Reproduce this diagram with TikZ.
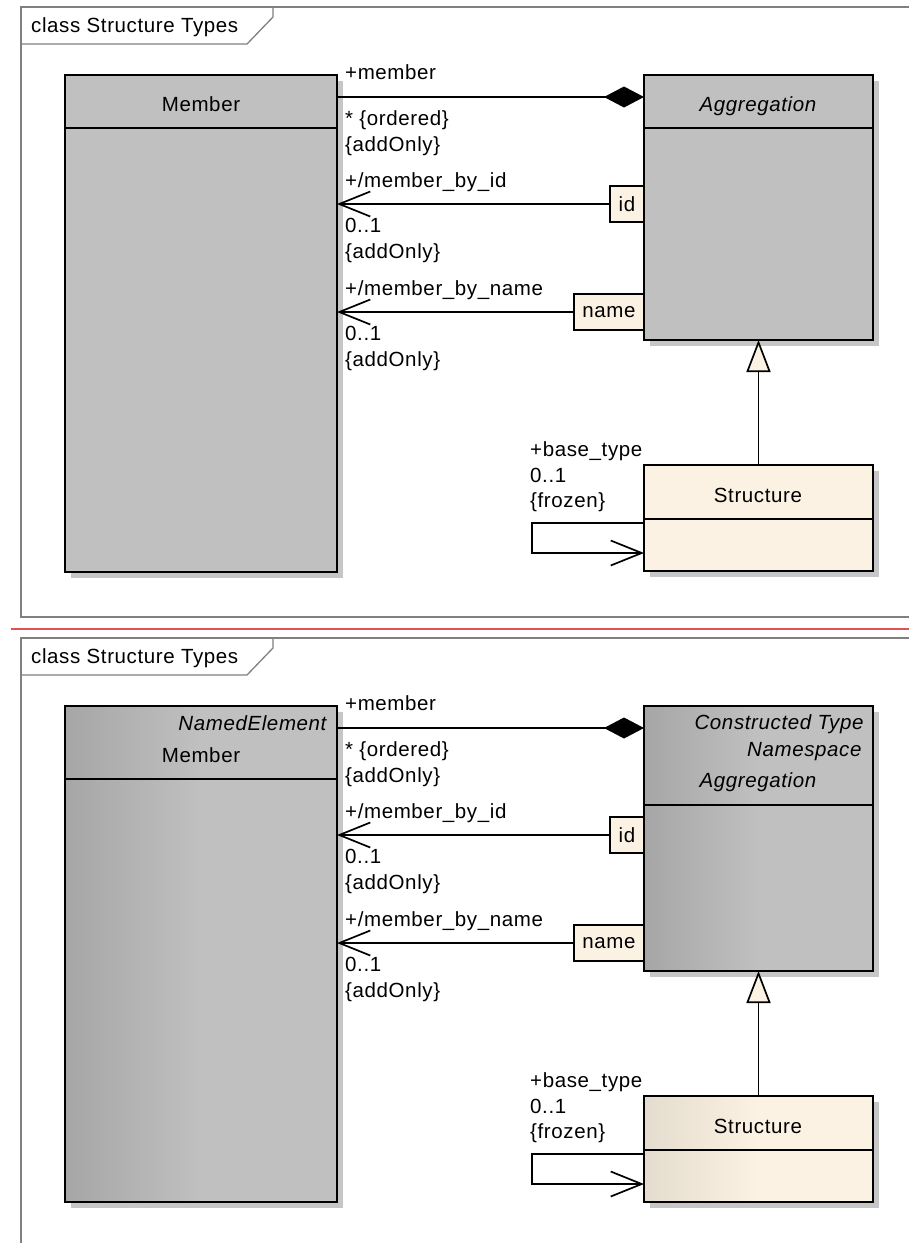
\documentclass[tikz,border=0pt]{standalone}
\usepackage{fontspec}
\setmainfont[LetterSpace=3]{Liberation Sans}
\usetikzlibrary{arrows.meta,calc,positioning,shadows}
\definecolor{umlgray}{RGB}{192,192,192}
\definecolor{umldark}{RGB}{166,166,166}
\definecolor{umlcream}{RGB}{252,242,228}
\definecolor{umlcreamdark}{RGB}{228,220,206}
\definecolor{umlshadow}{RGB}{198,198,198}
\definecolor{framegray}{RGB}{128,128,128}
\definecolor{sepred}{RGB}{222,82,82}

\tikzset{
  classbox/.style={draw, line width=2pt, fill=umlgray, inner sep=0pt, outer sep=0pt,
    general shadow={fill=umlshadow, shadow xshift=6pt, shadow yshift=-6pt}},
  shadedgray/.style={left color=umldark, right color=umlgray, middle color=umlgray},
  shadedcream/.style={left color=umlcreamdark, right color=umlcream, middle color=umlcream},
  qualbox/.style={draw, line width=1.6pt, fill=umlcream, inner sep=0pt, outer sep=0pt, minimum height=36pt},
  lbl/.style={anchor=base west, inner sep=0pt},
  assoc/.style={line width=1.7pt, -{Straight Barb[length=31pt, width=25pt]}},
  comp/.style={line width=1.7pt, -{Diamond[length=40pt, width=21pt]}},
  gener/.style={line width=1.7pt, -{Triangle[length=32pt, width=24pt, fill=umlcream]}},
  frame/.style={draw=framegray, line width=1.3pt},
  sepline/.style={draw=sepred, line width=2pt}
}

\begin{document}
\begin{tikzpicture}[x=1pt,y=1pt,yscale=-1,xscale=1,font=\fontsize{20.5}{24}\selectfont]
\useasboundingbox (0,0) rectangle (909,1243);

% Separator between the two versions
\draw[sepline] (11,629) -- (909,629);

%%%%%%%%%%%%%%%% upper diagram
% Frame
\draw[frame] (909,7) -- (21,7) -- (21,617) -- (909,617);
\draw[frame] (21,44) -- (247,44) -- (273,17) -- (273,7);
\draw (31,32) node [lbl] (title) {class Structure Types};

% Classes
\node[classbox, anchor=north west, minimum width=272pt, minimum height=53pt] (member) at (65,75) {};
\node[classbox, below=0pt of member, minimum width=272pt, minimum height=444pt] (memberb) {};
\draw (201,111) node [anchor=base] (membername) {Member};

\node[classbox, anchor=north west, minimum width=229pt, minimum height=53pt] (aggr) at (644,75) {};
\node[classbox, below=0pt of aggr, minimum width=229pt, minimum height=212pt] (aggrb) {};
\draw (758,111) node [anchor=base] (aggrname) {\itshape Aggregation};

\node[classbox, fill=umlcream, anchor=north west, minimum width=229pt, minimum height=54pt] (struct) at (644,465) {};
\node[classbox, fill=umlcream, below=0pt of struct, minimum width=229pt, minimum height=52pt] (structb) {};
\draw (758,502) node [anchor=base] (structname) {Structure};

% Qualifiers
\node[qualbox, anchor=east, minimum width=34pt] (id) at (644,204) {id};
\node[qualbox, anchor=east, minimum width=70pt] (name) at (644,312) {name};

% Connectors
\draw[comp] ($(member.north east)+(0,22)$) -- ($(aggr.north west)+(0,22)$);
\draw[assoc] (id.west) -- (id.west -| memberb.east);
\draw[assoc] (name.west) -- (name.west -| memberb.east);
\draw[gener] (struct.north) -- (aggrb.south);
\draw[assoc] ($(structb.north west)+(0,4)$) -- ++(-112,0) |- ($(structb.north west)+(0,34)$);

% Role labels
\draw (345,79) node [lbl] (rmember) {+member};
\draw (345,125) node [lbl] (mmember) {* \{ordered\}};
\draw (345,151) node [lbl] (cmember) {\{addOnly\}};
\draw (345,187) node [lbl] (rbyid) {+/member\_by\_id};
\draw (345,232) node [lbl] (mbyid) {0..1};
\draw (345,258) node [lbl] (cbyid) {\{addOnly\}};
\draw (345,295) node [lbl] (rbyname) {+/member\_by\_name};
\draw (345,340) node [lbl] (mbyname) {0..1};
\draw (345,366) node [lbl] (cbyname) {\{addOnly\}};
\draw (530,456) node [lbl] (rbase) {+base\_type};
\draw (530,482) node [lbl] (mbase) {0..1};
\draw (530,507) node [lbl] (cbase) {\{frozen\}};

%%%%%%%%%%%%%%%% lower diagram
\begin{scope}[shift={(0,631)}]
% Frame
\draw[frame] (909,7) -- (21,7) -- (21,612);
\draw[frame] (21,44) -- (247,44) -- (273,17) -- (273,7);
\draw (31,32) node [lbl] (title2) {class Structure Types};

% Classes
\node[classbox, shadedgray, anchor=north west, minimum width=272pt, minimum height=73pt] (member2) at (65,75) {};
\node[classbox, shadedgray, below=0pt of member2, minimum width=272pt, minimum height=423pt] (member2b) {};
\draw (330,99) node [anchor=base east] (member2parent) {\itshape NamedElement};
\draw (201,131) node [anchor=base] (member2name) {Member};

\node[classbox, shadedgray, anchor=north west, minimum width=229pt, minimum height=99pt] (aggr2) at (644,75) {};
\node[classbox, shadedgray, below=0pt of aggr2, minimum width=229pt, minimum height=166pt] (aggr2b) {};
\draw (867,98) node [anchor=base east] (aggr2parenta) {\itshape Constructed Type};
\draw (865,125) node [anchor=base east] (aggr2parentb) {\itshape Namespace};
\draw (758,156) node [anchor=base] (aggr2name) {\itshape Aggregation};

\node[classbox, shadedcream, anchor=north west, minimum width=229pt, minimum height=54pt] (struct2) at (644,465) {};
\node[classbox, shadedcream, below=0pt of struct2, minimum width=229pt, minimum height=52pt] (struct2b) {};
\draw (758,502) node [anchor=base] (struct2name) {Structure};

% Qualifiers
\node[qualbox, anchor=east, minimum width=34pt] (id2) at (644,204) {id};
\node[qualbox, anchor=east, minimum width=70pt] (name2) at (644,312) {name};

% Connectors
\draw[comp] ($(member2.north east)+(0,22)$) -- ($(aggr2.north west)+(0,22)$);
\draw[assoc] (id2.west) -- (id2.west -| member2b.east);
\draw[assoc] (name2.west) -- (name2.west -| member2b.east);
\draw[gener] (struct2.north) -- (aggr2b.south);
\draw[assoc] ($(struct2b.north west)+(0,4)$) -- ++(-112,0) |- ($(struct2b.north west)+(0,34)$);

% Role labels
\draw (345,79) node [lbl] (rmember2) {+member};
\draw (345,125) node [lbl] (mmember2) {* \{ordered\}};
\draw (345,151) node [lbl] (cmember2) {\{addOnly\}};
\draw (345,187) node [lbl] (rbyid2) {+/member\_by\_id};
\draw (345,232) node [lbl] (mbyid2) {0..1};
\draw (345,258) node [lbl] (cbyid2) {\{addOnly\}};
\draw (345,295) node [lbl] (rbyname2) {+/member\_by\_name};
\draw (345,340) node [lbl] (mbyname2) {0..1};
\draw (345,366) node [lbl] (cbyname2) {\{addOnly\}};
\draw (530,456) node [lbl] (rbase2) {+base\_type};
\draw (530,482) node [lbl] (mbase2) {0..1};
\draw (530,507) node [lbl] (cbase2) {\{frozen\}};
\end{scope}

\end{tikzpicture}
\end{document}
